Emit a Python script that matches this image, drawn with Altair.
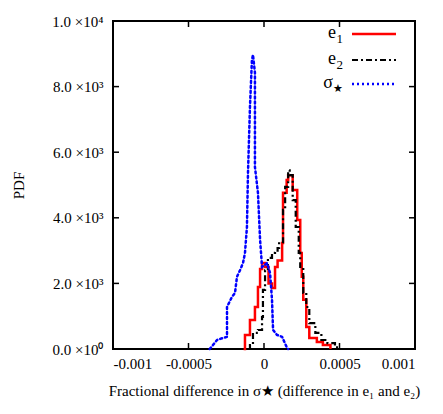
import altair as alt
import pandas as pd

# e1 (red, step histogram)
e1_x = [-0.000135, -0.000126, -0.000093, -0.00006, -0.00004, -0.000026, -0.000013, 0.000007, 0.00003, 0.000053,
        0.000073, 0.00009, 0.00012, 0.000126, 0.00015, 0.00016, 0.00019, 0.00022, 0.00024, 0.00025,
        0.00026, 0.00028, 0.0003, 0.00035, 0.00039, 0.00044]
e1_y = [0, 430, 885, 1280, 1890, 2440, 2620, 2500, 2000, 1860,
        2500, 2700, 3230, 4760, 5150, 5300, 4850, 3930, 2930, 2200,
        1500, 670, 335, 210, 120, 0]

# e2 (black, dash-dot step histogram)
e2_x = [-0.0001, -0.000093, -0.000073, -0.00004, -0.000013, -0.000007, 0.000007, 0.000026, 0.000053, 0.000073,
        0.00009, 0.0001, 0.000126, 0.00014, 0.00016, 0.00017, 0.00019, 0.00021, 0.00023, 0.00024,
        0.00026, 0.00028, 0.0003, 0.00034, 0.00038, 0.00042, 0.00047, 0.0005]
e2_y = [0, 120, 490, 580, 975, 1800, 2400, 2780, 2930, 2960,
        3080, 3260, 4240, 4940, 5450, 5300, 4540, 3720, 2930, 2500,
        1710, 1280, 790, 490, 275, 180, 50, 0]

# sigma_star (blue, dotted)
s_x = [-0.00036, -0.000338, -0.000311, -0.000272, -0.000245, -0.000245, -0.000212, -0.000192, -0.000179, -0.000159,
       -0.000139, -0.000126, -0.000113, -0.000106, -0.000093, -0.00008, -0.000073, -0.00006, -0.00006, -0.00004,
       -0.000026, -0.000013, 0.00002, 0.00004, 0.000053, 0.00006, 0.000086, 0.00012, 0.00015, 0.00016]
s_y = [0, 120, 275, 335, 370, 1280, 1590, 1710, 2200, 2400,
       2620, 2930, 3720, 5370, 7380, 8800, 8970, 8420, 5550, 4760,
       3330, 2500, 2620, 2320, 1500, 580, 430, 370, 60, 0]

x_ticks = [-0.001, -0.0005, 0, 0.0005, 0.001]
x_tick_labels = ["-0.001", "-0.0005", "0", "0.0005", "0.001"]
y_ticks = [0, 2000, 4000, 6000, 8000, 10000]
y_tick_labels = ["0.0 ×10⁰", "2.0 ×10³", "4.0 ×10³", "6.0 ×10³", "8.0 ×10³", "1.0 ×10⁴"]

series_main = ["e", "e", "σ"]
series_sub = ["1", "2", "★"]
series_colors = ["#ff0000", "#000000", "#0000ff"]

FONT = "Liberation Serif"
W, H = 302, 328

xscale = alt.Scale(domain=[-0.001, 0.001], nice=False)
yscale = alt.Scale(domain=[0, 10000], nice=False)

def lookup_expr(vals, labels, eps):
    parts = [f"abs(datum.value - ({v})) < {eps} ? '{l}'" for v, l in zip(vals, labels)]
    return " : ".join(parts) + " : ''"

xaxis = alt.Axis(values=x_ticks, labelExpr=lookup_expr(x_ticks, x_tick_labels, 1e-9), ticks=False, domain=False,
                 grid=False, labelFont=FONT, labelFontSize=15, labelColor="black", labelPadding=7,
                 title="Fractional difference in σ★ (difference in e₁ and e₂)", titleFont=FONT,
                 titleFontSize=15, titleFontWeight="normal", titleColor="black",
                 titleBaseline="middle", titleY=41)
yaxis = alt.Axis(values=y_ticks, labelExpr=lookup_expr(y_ticks, y_tick_labels, 1), ticks=False, domain=False,
                 grid=False, labelFont=FONT, labelFontSize=15, labelColor="black", labelPadding=10,
                 title="PDF", titleFont=FONT, titleFontSize=15, titleFontWeight="normal", titleColor="black",
                 titleBaseline="middle", titleX=-95, titleAngle=-90)

X = lambda f: alt.X(f, scale=xscale, axis=xaxis)
Y = lambda f: alt.Y(f, scale=yscale, axis=yaxis)

def df(xs, ys):
    return pd.DataFrame({"x": xs, "y": ys, "i": list(range(len(xs)))})

red = alt.Chart(df(e1_x, e1_y)).mark_line(color=series_colors[0], strokeWidth=2.5, interpolate="step-after").encode(
    x=X("x:Q"), y=Y("y:Q"), order="i:Q")
black = alt.Chart(df(e2_x, e2_y)).mark_line(color=series_colors[1], strokeWidth=2.2, strokeDash=[6, 3, 2, 3],
                                            interpolate="step-after").encode(
    x=X("x:Q"), y=Y("y:Q"), order="i:Q")
blue = alt.Chart(df(s_x, s_y)).mark_line(color=series_colors[2], strokeWidth=2.5, strokeDash=[2, 3],
                                         strokeCap="round").encode(
    x=X("x:Q"), y=Y("y:Q"), order="i:Q")

# inward ticks on all four sides
xt = pd.DataFrame({"x": x_ticks})
yt = pd.DataFrame({"y": y_ticks})
tick_layers = [
    alt.Chart(xt).mark_rule(color="black", strokeWidth=1.5).encode(
        x=X("x:Q"), y=alt.value(H), y2=alt.value(H - 6)),
    alt.Chart(xt).mark_rule(color="black", strokeWidth=1.5).encode(
        x=X("x:Q"), y=alt.value(0), y2=alt.value(6)),
    alt.Chart(yt).mark_rule(color="black", strokeWidth=1.5).encode(
        y=Y("y:Q"), x=alt.value(0), x2=alt.value(6)),
    alt.Chart(yt).mark_rule(color="black", strokeWidth=1.5).encode(
        y=Y("y:Q"), x=alt.value(W), x2=alt.value(W - 6)),
]

# legend (top right)
leg_rows = [13, 39, 63]
sub_w = [7, 7, 10]
legend_layers = []
dashes = [None, [6, 3, 2, 3], [2, 3]]
for main, sub, sw, col, row, dash in zip(series_main, series_sub, sub_w, series_colors, leg_rows, dashes):
    ld = pd.DataFrame({"main": [main], "sub": [sub]})
    legend_layers.append(
        alt.Chart(ld).mark_text(align="right", baseline="middle", font=FONT, fontSize=18, color="black").encode(
            text="main:N", x=alt.value(230 - sw), y=alt.value(row - 1)))
    legend_layers.append(
        alt.Chart(ld).mark_text(align="right", baseline="middle", font=FONT, fontSize=13 if sub != "★" else 11,
                                color="black").encode(
            text="sub:N", x=alt.value(230), y=alt.value(row + 5)))
    kw = dict(color=col, strokeWidth=2.2 if dash == [6, 3, 2, 3] else 2.5)
    if dash:
        kw["strokeDash"] = dash
    legend_layers.append(
        alt.Chart(ld).mark_rule(**kw).encode(x=alt.value(239), x2=alt.value(283), y=alt.value(row)))

chart = alt.layer(red, black, blue, *tick_layers, *legend_layers).properties(
    width=W, height=H,
    autosize=alt.AutoSizeParams(type="none"),
    padding={"left": 105, "top": 13, "right": 20, "bottom": 57},
    background="white",
).configure_view(stroke="black", strokeWidth=2)

chart.save("out.html", embed_options={"renderer": "svg", "actions": False})
